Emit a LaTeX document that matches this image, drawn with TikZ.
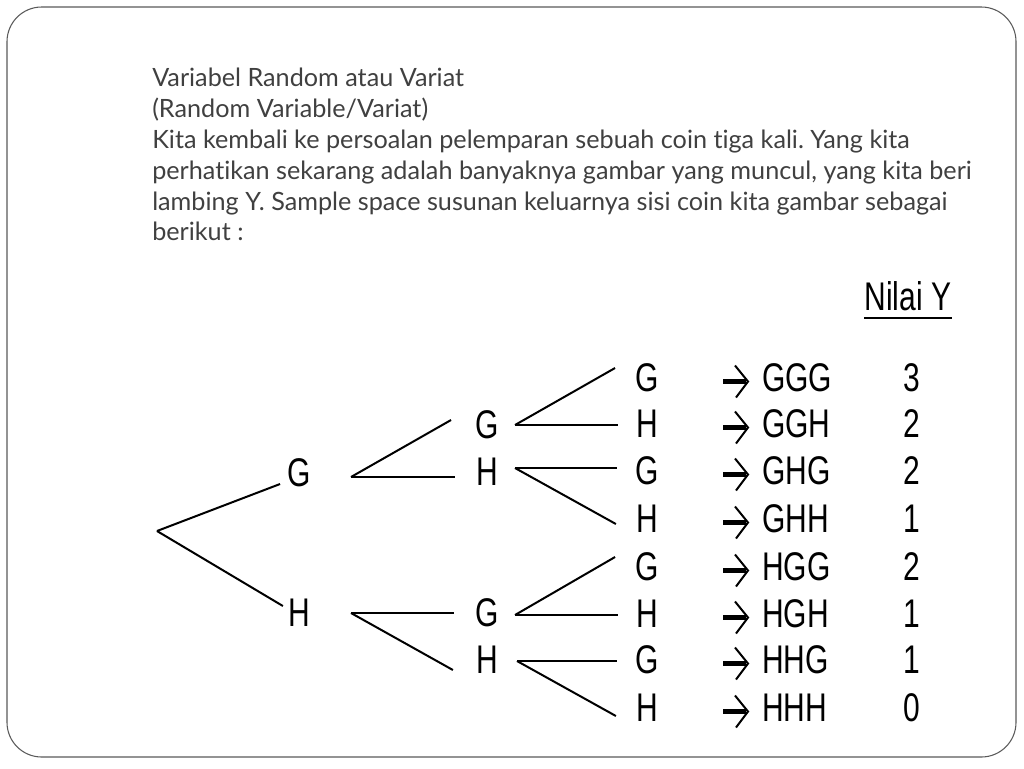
\documentclass[tikz,border=0pt]{standalone}
\usepackage{fontspec}
\setmainfont[Ligatures={NoCommon,NoDiscretionary}]{Lato}
\newfontfamily\pohonfont[FakeStretch=0.75]{Liberation Sans}
\usetikzlibrary{calc}
\definecolor{teksAbu}{HTML}{404040}
\definecolor{bingkaiAbu}{HTML}{595959}
\frenchspacing

\begin{document}
\begin{tikzpicture}[x=0.75pt,y=-0.75pt,
  huruf/.style={font=\pohonfont\fontsize{30}{30}\selectfont,inner sep=0pt},
  batang/.style={line width=3.4pt,black},
  kepala/.style={line width=1.5pt,black,line join=miter},
  garis/.style={line width=1.5pt,black}]
\useasboundingbox (0,0) rectangle (1024,768);
\draw[bingkaiAbu,line width=0.8pt,rounded corners=26pt] (7,7) rectangle (1016,757);
\node[anchor=north west,align=left,inner sep=0pt,text=teksAbu,
      font=\fontsize{18.9}{23.1}\selectfont] (judul) at (152,68)
  {Variabel Random atau Variat\\
   (Random Variable/Variat)\\
   Kita kembali ke persoalan pelemparan sebuah coin tiga kali. Yang kita\\
   perhatikan sekarang adalah banyaknya gambar yang muncul, yang kita beri\\
   lambing Y. Sample space susunan keluarnya sisi coin kita gambar sebagai\\
   berikut :};
% pohon
\coordinate (r) at (157,531);
\node[huruf] (g) at (299,473) {G};
\node[huruf] (h) at (299,613) {H};
\coordinate (bg) at (351,477);
\coordinate (bh) at (351,613);
\node[huruf] (gg) at (487,425) {G};
\node[huruf] (gh) at (487,472) {H};
\node[huruf] (hg) at (487,613) {G};
\node[huruf] (hh) at (487,660) {H};
\coordinate (bgg) at (515,425);
\coordinate (bgh) at (515,468);
\coordinate (bhg) at (515,615);
\coordinate (bhh) at (517,661);
\node[huruf] (nilai) at (908,296) {Nilai Y};
\draw[line width=1pt] ($(nilai.south west)+(0,7)$) -- ($(nilai.south east)+(0,7)$);
\foreach \n/\c/\y/\s/\v in {ggg/G/378/GGG/3, ggh/H/424/GGH/2, ghg/G/471/GHG/2, ghh/H/519/GHH/1,
    hgg/G/567/HGG/2, hgh/H/614/HGH/1, hhg/G/660/HHG/1, hhh/H/708/HHH/0} {
  \node[huruf] (\n) at (647,\y) {\c};
  \node[huruf,anchor=west] (s\n) at (762,\y) {\s};
  \node[huruf] (v\n) at (912,\y) {\v};
  % panah
  \draw[batang] ($(s\n.west)+(-39,3.5)$) -- ($(s\n.west)+(-16,3.5)$);
  \draw[kepala] ($(s\n.west)+(-27,-12.5)$) -- ($(s\n.west)+(-14,3.5)$) -- ($(s\n.west)+(-26,19.5)$);
}
\foreach \a/\b/\dx/\dy in {r/g/-7/11, r/h/-5/-7, bg/gg/-24/-5, bg/gh/-21/5, bh/hg/-21/0, bh/hh/-23/10,
    bgg/ggg/-20/-10, bgg/ggh/-18/1, bgh/ghg/-18/-3, bgh/ghh/-20/5,
    bhg/hgg/-20/-10, bhg/hgh/-18/1, bhh/hhg/-18/1, bhh/hhh/-20/8}
  \draw[garis] (\a) -- ($(\b.west)+(\dx,\dy)$);
\end{tikzpicture}
\end{document}
